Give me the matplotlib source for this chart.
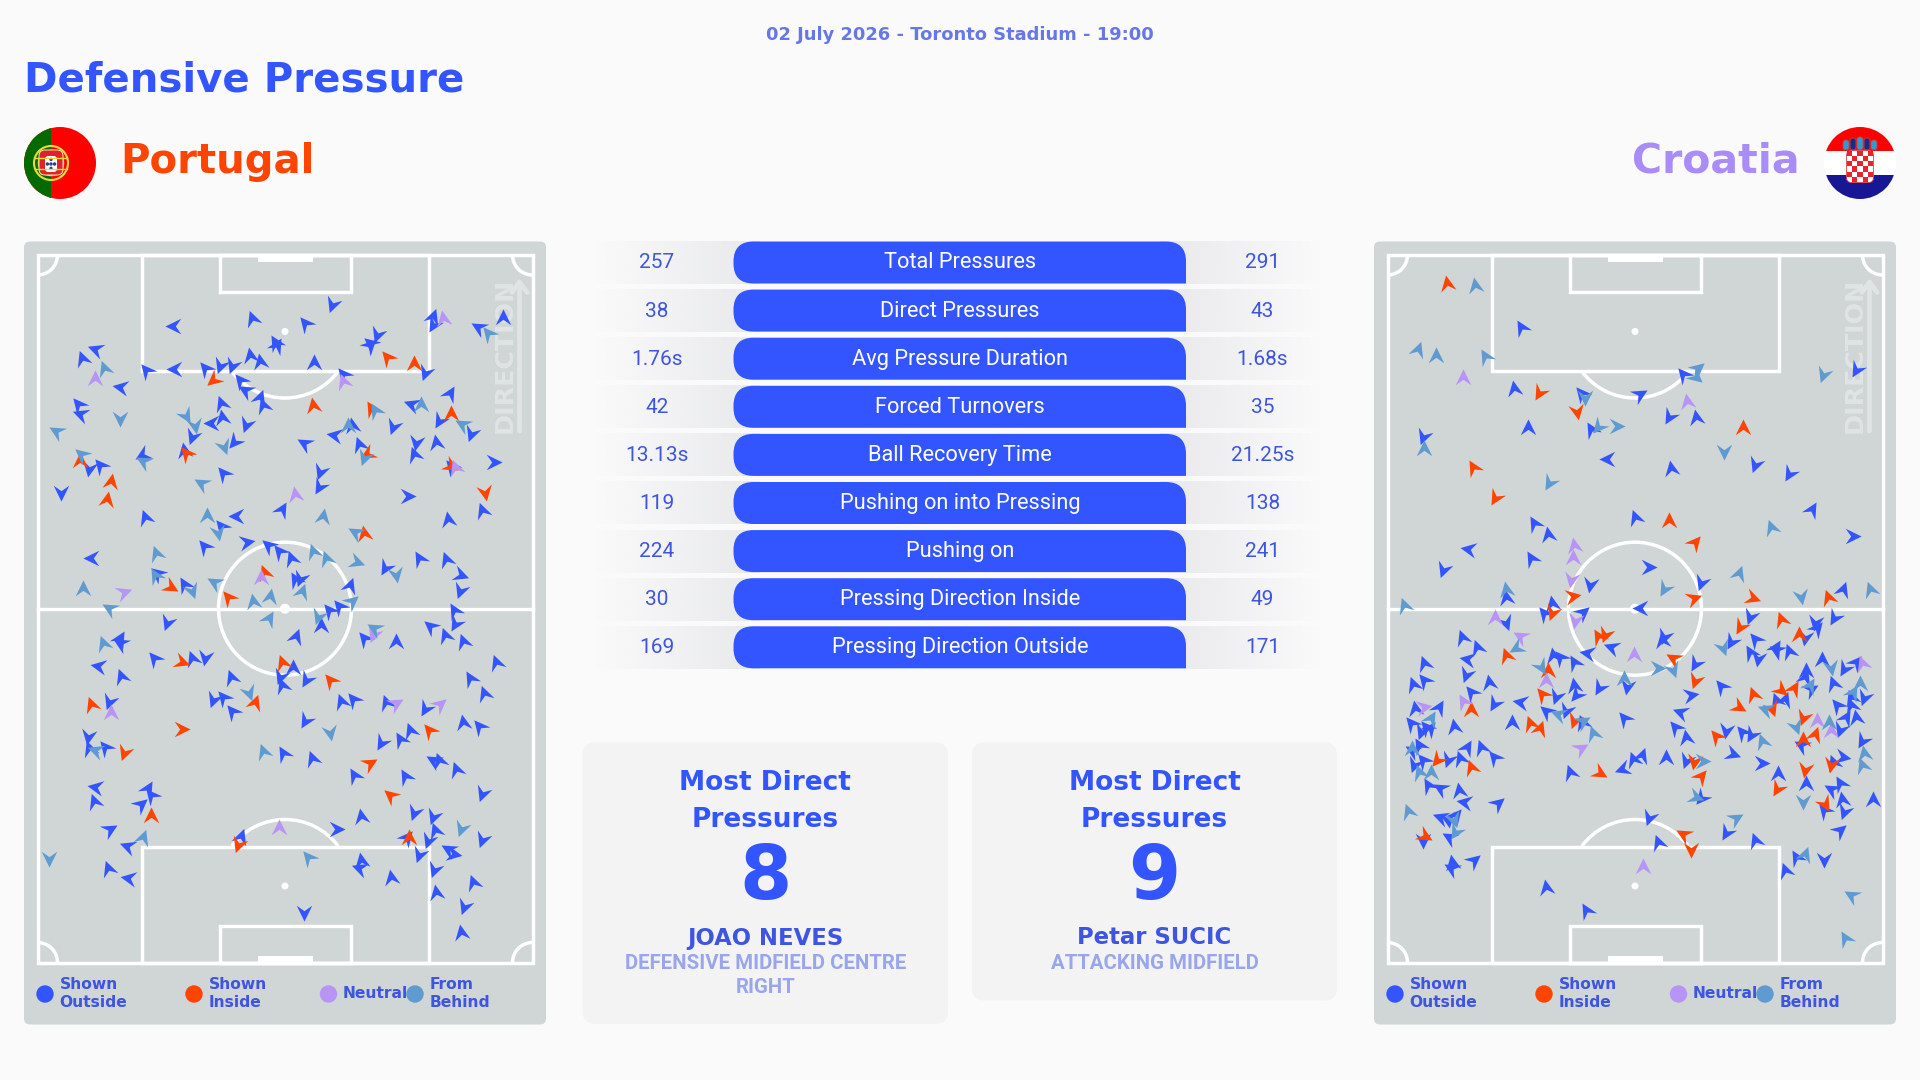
import numpy as np
import matplotlib
matplotlib.use("Agg")
import matplotlib.pyplot as plt
from matplotlib.patches import Circle, Rectangle, FancyBboxPatch, PathPatch, Arc
from matplotlib.path import Path
from matplotlib.markers import MarkerStyle
from matplotlib.transforms import Affine2D
from matplotlib.colors import to_rgb

# ---------------- data ----------------
stat_names = ["Total Pressures", "Direct Pressures", "Avg Pressure Duration", "Forced Turnovers",
              "Ball Recovery Time", "Pushing on into Pressing", "Pushing on",
              "Pressing Direction Inside", "Pressing Direction Outside"]
por_stats = ["257", "38", "1.76s", "42", "13.13s", "119", "224", "30", "169"]
cro_stats = ["291", "43", "1.68s", "35", "21.25s", "138", "241", "49", "171"]

# pressure events: (across pitch, down pitch, heading in degrees clockwise from up)
por_outside = [(485,288,270),(705,265,340),(855,278,320),(930,225,200),(1213,258,20),(1213,285,210),(1408,262,0),(1338,290,300),(265,358,290),(230,385,340),(335,470,280),(218,522,320),(225,552,290),(770,335,330),(775,345,30),(700,375,350),(728,392,350),(880,397,0),(1055,315,200),(1035,345,45),(1035,340,310),(408,420,320),(488,418,270),(575,415,320),(615,408,200),(650,408,200),(960,432,320),(1190,428,200),(1260,488,30),(620,518,340),(672,450,320),(685,480,300),(728,500,20),(735,525,340),(622,562,350),(590,578,270),(688,585,200),(538,622,200),(515,660,350),(655,635,220),(850,640,300),(935,615,280),(985,585,350),(1005,642,340),(1100,592,200),(1150,522,290),(1228,572,210),(1320,612,200),(1165,640,190),(1160,672,340),(1222,635,350),(1262,708,320),(1382,695,90),(398,675,240),(280,705,320),(250,718,190),(895,725,200),(893,772,210),(625,730,320),(170,788,180),(1143,797,90),(1350,840,340),(405,860,340),(790,838,30),(660,858,270),(620,888,320),(1255,868,350),(692,937,80),(570,948,320),(750,945,310),(782,962,320),(255,983,270),(815,985,340),(440,1030,310),(515,1062,330),(840,1048,200),(825,1048,330),(980,1065,20),(1078,1015,210),(1172,985,330),(1248,987,340),(1292,1035,110),(1288,1083,200),(1272,1140,330),(920,1140,320),(950,1128,320),(898,1185,0),(1275,1183,210),(1205,1188,310),(468,1180,200),
 (335,1225,30),(335,1240,300),(830,1218,20),(1018,1225,320),(1110,1232,0),(1245,1215,340),(1297,1232,340),(432,1285,320),(538,1285,340),(575,1285,190),(1388,1295,340),(275,1308,280),(340,1338,340),(648,1342,340),(820,1310,0),(785,1340,200),(858,1350,210),(790,1365,340),(1315,1345,330),(1355,1388,340),(955,1413,340),(987,1408,320),(1080,1415,340),(595,1410,200),(625,1402,320),(650,1442,320),(1190,1438,210),(305,1415,200),(853,1472,210),(1295,1475,350),(1340,1488,320),(1148,1500,340),(1120,1528,330),(1068,1538,210),(245,1522,190),(250,1555,340),(293,1550,320),(792,1570,330),(873,1585,340),(1213,1590,300),(1230,1590,340),(1278,1617,340),(1135,1637,330),(992,1635,330),(1350,1692,200),(265,1670,280),(262,1713,340),(415,1675,30),(422,1695,320),(395,1722,50),(1160,1750,200),(1213,1762,200),(1012,1757,350),(1218,1800,340),(1350,1830,200),(307,1797,60),(355,1848,290),(675,1818,20),(943,1798,90),(1140,1820,40),(1197,1833,200),(1172,1875,200),(1255,1858,300),(1270,1873,100),(1010,1890,350),(1005,1915,290),(303,1913,340),(358,1943,280),(1095,1942,350),(1215,1920,200),(1325,1957,340),(1220,1985,350),(850,2050,180),(1298,2030,200),(1290,2105,350)]
por_inside = [(597,450,230),(1083,380,320),(1160,398,0),(875,525,350),(1040,535,330),(1262,550,0),(522,668,320),(225,690,0),(1028,672,240),(1262,708,120),(312,752,10),(300,808,10),(1358,790,170),(1018,910,350),(478,1072,120),(740,1025,340),(638,1102,320),
 (510,1295,110),(790,1297,340),(925,1350,320),(713,1415,20),(255,1422,340),(510,1498,90),(1200,1500,320),(348,1568,200),(1037,1600,60),(1092,1695,310),(423,1755,0),(665,1845,200),(1145,1820,0)]
por_neutral = [(1240,265,350),(265,445,0),(960,452,340),(1275,712,340),(825,792,350),(730,1042,0),(348,1087,70),
 (1043,1215,200),(1108,1420,60),(1233,1422,50),(310,1445,0),(782,1792,0)]
por_behind = [(292,415,340),(335,568,180),(158,602,300),(522,558,150),(545,588,170),(628,650,160),(1050,540,330),(1180,522,0),(975,585,0),(1293,582,300),(1365,310,320),(228,672,310),(400,692,300),(1020,685,200),(562,758,300),(905,858,10),(580,855,0),(610,908,170),(995,905,300),(438,968,340),(875,962,340),(912,985,340),(1000,995,110),(435,1035,330),(1110,1035,170),(600,1055,300),(233,1075,0),(538,1082,160),(708,1112,350),(757,1098,10),(845,1082,20),(985,1112,50),(305,1135,300),(752,1165,30),(890,1160,200),
 (1047,1195,300),(287,1240,340),(697,1388,160),(925,1508,170),(400,1822,20),(735,1562,340),(265,1560,290),(862,1882,320),(137,1888,180),(1290,1798,200)]

cro_outside = [(450,290,330),(905,432,320),(432,475,350),(620,490,320),(785,492,60),(470,592,0),(648,598,330),(865,560,210),(940,560,350),(175,622,200),(692,687,270),(872,715,350),(1105,705,200),(1200,733,210),(1390,420,210),(1265,838,30),(770,860,340),(1380,917,90),(487,878,330),(527,912,350),(302,957,280),(478,985,330),(232,1020,200),(810,1012,90),(643,1065,190),(955,1060,200),(410,1100,350),(538,1118,350),(515,1150,320),(625,1147,50),(785,1135,270),(1093,1160,200),(1352,1078,20),(1328,1165,210),(1275,1180,190),(408,1180,160),
 (285,1222,340),(328,1250,340),(300,1288,280),(180,1300,340),(148,1363,340),(178,1350,320),(298,1335,200),(360,1357,350),(310,1385,320),(375,1422,210),(448,1417,280),(220,1432,30),(155,1435,350),(143,1480,320),(185,1490,320),(195,1495,40),(262,1488,350),(170,1505,200),(425,1475,0),(540,1275,350),(560,1280,320),(600,1295,330),(635,1270,280),(703,1250,290),(850,1220,200),(845,1230,350),(938,1303,210),(1040,1235,210),(1105,1228,320),(1093,1265,330),(1115,1288,190),(1165,1252,30),(1165,1260,300),(1200,1263,340),(1280,1195,40),(1245,1225,190),(1293,1288,0),(1355,1318,210),(1390,1295,40),(1250,1320,0),(1245,1340,20),(1325,1360,340),(1262,1377,60),(1010,1367,320),(928,1395,80),(895,1445,290),(883,1490,320),(912,1522,350),(748,1370,190),(668,1373,210),(600,1365,350),(605,1395,220),(548,1400,200),(520,1442,310),(578,1442,200),(622,1475,340),(738,1465,320),(1165,1410,340),(1190,1408,20),(1025,1503,190),(1070,1505,320),(1095,1515,210),(1335,1425,320),(1375,1400,340),(1410,1405,200),(1375,1425,340),(1360,1460,30),(1390,1460,350),(1345,1500,200),(1405,1532,210),(1235,1545,300),(1045,1572,110),(1125,1600,90),(1170,1628,0),(1250,1660,0),(1325,1595,340),(1353,1580,100),(1345,1660,330),(1320,1677,300),(1350,1708,350),(1300,1740,320),(1355,1745,200),(1435,1708,0),(1345,1800,50),(1025,1810,210),(1105,1830,340),(808,1765,200),(833,1835,340),(1222,1882,330),(1300,1890,180),(1190,1920,340),(520,1972,350),(632,2040,330),(320,1890,50),(258,1895,350),(255,1915,300),(375,1582,320),(340,1552,340),(300,1550,30),(280,1585,340),(245,1590,200),(175,1590,320),(150,1605,200),(165,1545,330),(145,1560,300),(190,1665,330),(225,1675,300),(278,1680,350),(290,1715,280),(385,1720,50),(225,1760,290),(270,1755,40),(245,1770,170),(250,1820,300),(175,1832,180),(588,1627,340),(733,1617,250),(765,1587,340),(790,1575,20),(858,1582,0),(912,1593,200),(955,1705,220)]
cro_inside = [(243,160,350),(500,488,210),(608,545,170),(1073,592,0),(315,710,330),(378,805,210),(864,870,0),(938,935,40),(595,1098,80),(935,1105,70),(1100,1103,110),(1310,1102,340),(538,1150,200),(1178,1167,340),(1065,1190,210),
 (408,1275,340),(510,1392,320),(525,1320,0),(310,1438,0),(310,1610,340),(215,1590,220),(475,1480,340),(503,1495,20),(598,1473,200),(1060,1432,120),(1100,1392,340),(1180,1380,130),(1215,1373,30),(1153,1438,160),(1240,1465,200),(1240,1528,0),(1275,1512,20),(998,1518,320),(665,1218,330),(685,1215,200),(875,1283,300),(937,1352,200),(1228,1212,0),(672,1628,120),(935,1595,190),(955,1638,40),(1247,1620,190),(1168,1678,210),(1320,1605,190),(1303,1723,150),(182,1818,120),(905,1812,300),(928,1860,180)]
cro_neutral = [(288,440,0),(915,512,350),(598,945,350),(597,982,0),(590,1050,190),(378,1160,0),(603,1172,190),
 (448,1218,300),(522,1350,0),(180,1430,80),(288,1413,330),(768,1273,0),(620,1553,60),(1280,1470,0),(1318,1500,0),(1405,1298,340),(793,1908,0)]
cro_behind = [(322,165,350),(163,358,20),(212,375,0),(350,378,330),(945,415,50),(940,440,130),(1295,435,200),(630,505,180),(665,590,220),(720,587,90),(178,655,0),(1020,665,180),(528,760,210),(1150,892,340),(1060,1030,20),(850,1078,210),(408,1078,350),(1235,1100,170),(1428,1077,340),(122,1125,340),
 (438,1255,240),(508,1312,150),(740,1345,0),(835,1315,90),(875,1320,160),(1017,1255,160),(1260,1365,30),(1380,1385,30),(1400,1360,0),(1320,1315,170),(200,1465,30),(555,1452,290),(625,1472,60),(652,1510,340),(1133,1438,290),(1125,1532,340),(1222,1492,160),(1312,1475,0),(145,1555,0),(165,1625,340),(200,1625,0),(133,1742,340),(262,1770,160),(265,1807,210),(960,1592,90),(940,1700,110),(1053,1765,60),(1245,1873,20),(1240,1717,180),(1412,1570,350),(1405,1605,340),(1375,1995,300),(1358,2125,330)]

legend_labels = ["Shown\nOutside", "Shown\nInside", "Neutral", "From\nBehind"]
card_titles = ["Most Direct\nPressures", "Most Direct\nPressures"]
card_values = ["8", "9"]
card_players = ["JOAO NEVES", "Petar SUCIC"]
card_roles = ["DEFENSIVE MIDFIELD CENTRE\nRIGHT", "ATTACKING MIDFIELD"]
BLUE, ORANGE, PURPLE, LBLUE = "#3355ff", "#ff4400", "#b794f6", "#5f9bd1"
cat_colors = [BLUE, ORANGE, PURPLE, LBLUE]

# ---------------- canvas ----------------
BG = "#fafafb"
TXT = "#3d55e0"
FW, FH = 1920, 1080
fig = plt.figure(figsize=(19.2, 10.8), dpi=100, facecolor=BG)
ax = fig.add_axes([0, 0, 1, 1])
ax.set_xlim(0, FW); ax.set_ylim(FH, 0); ax.axis("off")

HEAVY = dict(family="DejaVu Sans", weight="bold")
ax.text(960, 35, "02 July 2026 - Toronto Stadium - 19:00", ha="center", va="center",
        color="#6678e6", fontsize=12.9, **HEAVY)
ax.text(24, 81, "Defensive Pressure", ha="left", va="center", color=BLUE, fontsize=29, **HEAVY)
ax.text(120, 161.5, "Portugal", ha="left", va="center", color=ORANGE, fontsize=29, **HEAVY)
ax.text(1800, 161.5, "Croatia", ha="right", va="center", color="#a98cf8", fontsize=29.5, **HEAVY)

# ---------------- flags ----------------
def portugal(cx, cy, r):
    clip = Circle((cx, cy), r, transform=ax.transData)
    for rect in (Rectangle((cx-r, cy-r), 2*r, 2*r, fc="#ff0000", ec="none"),
                 Rectangle((cx-r, cy-r), 27, 2*r, fc="#046a00", ec="none")):
        ax.add_patch(rect); rect.set_clip_path(clip)
    ox = cx + 27 - r
    ax.add_patch(Circle((ox, cy), 17, fc="none", ec="#e8dc3c", lw=1.5))
    ax.add_patch(Circle((ox, cy), 12.5, fc="none", ec="#d8c83a", lw=1.1))
    ax.plot([ox-16, ox+16], [cy-5, cy-5], color="#e8dc3c", lw=1.0)
    ax.plot([ox-16, ox+16], [cy+6, cy+6], color="#e8dc3c", lw=1.0)
    ax.add_patch(FancyBboxPatch((ox-12, cy-13), 24, 25, boxstyle="round,pad=0,rounding_size=6", fc="#e0202a", ec="#f5f0b0", lw=.7))
    ax.add_patch(FancyBboxPatch((ox-6, cy-7), 12, 16, boxstyle="round,pad=0,rounding_size=3.5", fc="#ffffff", ec="none"))
    for dx, dy in [(0,-3.6),(-3.6,1),(0,1),(3.6,1),(0,5.4)]:
        ax.add_patch(Circle((ox+dx, cy+dy), 1.7, fc="#23408f", ec="none"))

def croatia(cx, cy, r):
    clip = Circle((cx, cy), r, transform=ax.transData)
    for rect in (Rectangle((cx-r, cy-r), 2*r, 24, fc="#ff0000", ec="none"),
                 Rectangle((cx-r, cy-12), 2*r, 24, fc="#ffffff", ec="none"),
                 Rectangle((cx-r, cy+12), 2*r, 24, fc="#171796", ec="none")):
        ax.add_patch(rect); rect.set_clip_path(clip)
    crown = [("#2f9bd6", 0), ("#1a2a8c", 2), ("#2f9bd6", 3), ("#1a2a8c", 2), ("#2f9bd6", 0)]
    for i, (c, up) in enumerate(crown):
        ax.add_patch(FancyBboxPatch((cx-17+7*i, cy-23-up), 6, 10+up, boxstyle="round,pad=0,rounding_size=2.6",
                                    fc=c, ec="#d04030", lw=.6))
    ax.add_patch(FancyBboxPatch((cx-13.5, cy-12.5), 27, 32, boxstyle="round,pad=0,rounding_size=5", fc="#ffffff", ec="#e0404a", lw=.6))
    s = 5.3
    for row in range(6):
        for col in range(5):
            if (row + col) % 2 == 0:
                ax.add_patch(Rectangle((cx-13.2+col*s, cy-12.5+row*s), s, s, fc="#e8232a", ec="none"))

portugal(60, 163, 36)
croatia(1860, 163, 36)

# ---------------- pitches ----------------
def rbox(x0, y0, x1, y1, r, fc, z=1):
    ax.add_patch(FancyBboxPatch((x0, y0), x1-x0, y1-y0, boxstyle=f"round,pad=0,rounding_size={r}",
                                fc=fc, ec="none", zorder=z))

def pitch(x0, xlim, data):
    rbox(x0-13.5, 241.5, x0+508.5, 1024.5, 6, "#d0d5d5")
    L, R, T, B = x0, x0+495, 255, 962.5
    cx, cy = x0+247.5, 608.7
    kw = dict(fc="none", ec="white", lw=2.5, zorder=2)
    ax.add_patch(Rectangle((L, T), R-L, B-T, **kw))
    ax.plot([L, R], [cy, cy], color="white", lw=2.5, zorder=2)
    ax.add_patch(Circle((cx, cy), 66.5, **kw))
    ax.add_patch(Circle((cx, cy), 5, fc="white", ec="none", zorder=2))
    for top, sgn in ((T, 1), (B, -1)):
        ax.add_patch(Rectangle((cx-143.5, top), 287, sgn*115.5, **kw))
        ax.add_patch(Rectangle((cx-65.5, top), 131, sgn*37, **kw))
        ax.add_patch(Rectangle((cx-27.5, top), 55, sgn*7, fc="white", ec="none", zorder=2))
        spot = top+sgn*76.5
        ax.add_patch(Circle((cx, spot), 3.5, fc="white", ec="none", zorder=2))
        a0, a1 = (37, 143) if sgn == 1 else (217, 323)
        ax.add_patch(Arc((cx, spot), 133, 133, theta1=a0, theta2=a1, ec="white", lw=2.5, zorder=2))
        for cxn, th in ((L, (0, 90) if sgn == 1 else (270, 360)), (R, (90, 180) if sgn == 1 else (180, 270))):
            ax.add_patch(Arc((cxn, top), 40, 40, theta1=th[0], theta2=th[1], ec="white", lw=2.5, zorder=2))
    ax.text(x0+467.5, 355, "DIRECTION", rotation=90, ha="center", va="center", color="#e0e4e4",
            fontsize=18.2, zorder=2, **HEAVY)
    ax.annotate("", xy=(x0+482, 278), xytext=(x0+482, 431), zorder=2,
                arrowprops=dict(arrowstyle="->,head_length=0.75,head_width=0.55", color="#e0e4e4", lw=3.4,
                                shrinkA=0, shrinkB=0))
    cxs = [x0+7.5, x0+156.5, x0+291, x0+377.5]
    txs = [x0+22, x0+171.5, x0+305.5, x0+392.5]
    for cxi, txi, lab, col in zip(cxs, txs, legend_labels, cat_colors):
        ax.add_patch(Circle((cxi, 994), 8.7, fc=col, ec="none", zorder=3))
        ax.text(txi, 993.5, lab, ha="left", va="center", color=TXT, fontsize=11.2, linespacing=1.25,
                zorder=3, **HEAVY)
    pax = fig.add_axes([L/FW, 1-B/FH, (R-L)/FW, (B-T)/FH], facecolor="none")
    pax.set_xlim(*xlim); pax.set_ylim(2198, 75); pax.axis("off")
    arrow = Path([(0, .52), (.5, -.5), (0, -.15), (-.5, -.5), (0, .52)],
                 [Path.MOVETO, Path.LINETO, Path.LINETO, Path.LINETO, Path.CLOSEPOLY])
    for pts, col in zip(data, cat_colors):
        for x, y, a in pts:
            m = MarkerStyle(arrow, transform=Affine2D().rotate_deg(-a))
            pax.scatter([x], [y], marker=m, s=135, color=col, linewidths=0, clip_on=False, zorder=4)

pitch(37.5, (105, 1491), [por_outside, por_inside, por_neutral, por_behind])
pitch(1387.5, (77, 1463), [cro_outside, cro_inside, cro_neutral, cro_behind])

# ---------------- stat rows ----------------
def band(x0, x1, yc, h, fade_left):
    g = np.linspace(0, 1, 128)
    if not fade_left:
        g = g[::-1]
    rgba = np.zeros((1, 128, 4))
    rgba[..., :3] = to_rgb("#e8e9ea")
    rgba[..., 3] = g
    ax.imshow(rgba, extent=(x0, x1, yc+h/2, yc-h/2), aspect="auto", zorder=1, interpolation="bilinear")

def stat_bar(x0, x1, y0, y1, r):
    v = [(x0+r, y0), (x1-r, y0), (x1, y0), (x1, y0+r), (x1, y1), (x0+r, y1),
         (x0, y1), (x0, y1-r), (x0, y0+r), (x0, y0), (x0+r, y0)]
    c = [Path.MOVETO, Path.LINETO, Path.CURVE3, Path.CURVE3, Path.LINETO, Path.LINETO,
         Path.CURVE3, Path.CURVE3, Path.LINETO, Path.CURVE3, Path.CURVE3]
    ax.add_patch(PathPatch(Path(v, c), fc=BLUE, ec="none", zorder=2))

for i, (name, a, b) in enumerate(zip(stat_names, por_stats, cro_stats)):
    yc = 262.5 + i * 48.1
    band(595, 760, yc, 43, True)
    band(1160, 1322, yc, 43, False)
    stat_bar(733.5, 1186, yc-21, yc+21, 20)
    ax.text(960, yc+.5, name, ha="center", va="center", color="white", fontsize=15.7, family="Roboto", zorder=3)
    ax.text(657, yc+.5, a, ha="center", va="center", color=TXT, fontsize=15, family="Roboto", zorder=3)
    ax.text(1262.5, yc+.5, b, ha="center", va="center", color=TXT, fontsize=15, family="Roboto", zorder=3)

# ---------------- top-player cards ----------------
card_boxes = [(582.5, 948, 1024), (972, 1337, 1000.5)]
for (x0, x1, yb), title, val, player, role in zip(card_boxes, card_titles, card_values, card_players, card_roles):
    rbox(x0, 742.5, x1, yb, 13, "#f3f3f4")
    cx = (x0+x1)/2
    for yy, line in zip((783.5, 820), title.split("\n")):
        ax.text(cx, yy, line, ha="center", va="center", color=BLUE, fontsize=19, zorder=3, **HEAVY)
    ax.text(cx, 878, val, ha="center", va="center", color=BLUE, fontsize=54, zorder=3, **HEAVY)
    ax.text(cx, 938, player, ha="center", va="center", color=TXT, fontsize=16.4, zorder=3, **HEAVY)
    for yy, line in zip((963.5, 987.5), role.split("\n")):
        ax.text(cx, yy, line, ha="center", va="center", color="#98a6ec", fontsize=14.7,
                family="Roboto", weight="bold", zorder=3)

ax.set_xlim(0, FW); ax.set_ylim(FH, 0)
fig.savefig("out.png", dpi=100, facecolor=BG)
